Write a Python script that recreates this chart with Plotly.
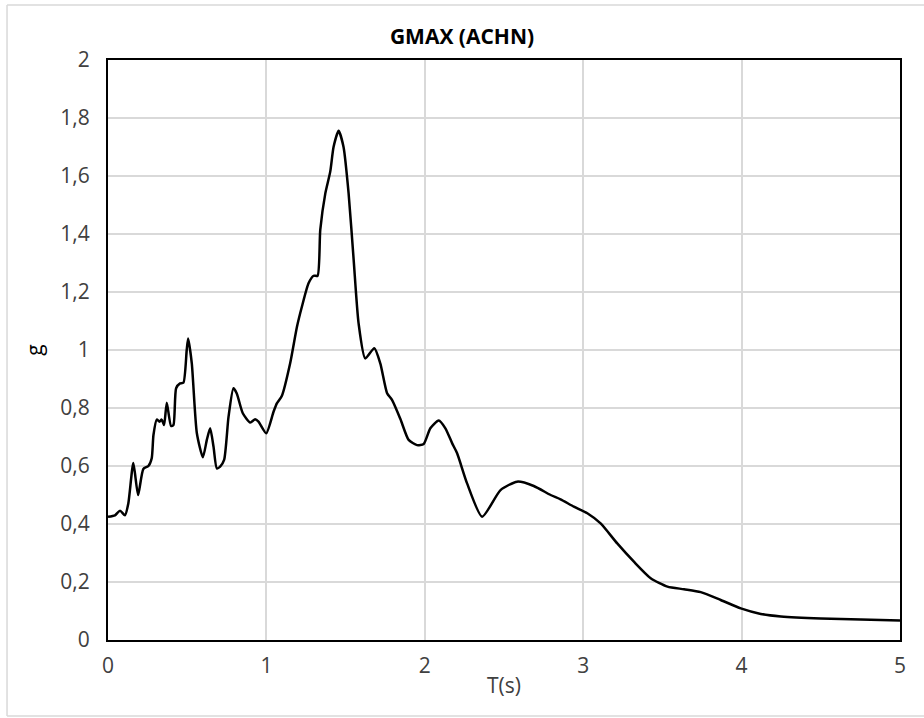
import plotly.graph_objects as go

T = [0.0, 0.044, 0.076, 0.107, 0.128, 0.16, 0.19, 0.223, 0.255, 0.276, 0.287, 0.308, 0.325, 0.339,
     0.354, 0.371, 0.398, 0.413, 0.43, 0.455, 0.476, 0.497, 0.506, 0.529, 0.561, 0.599, 0.624,
     0.645, 0.666, 0.687, 0.708, 0.733, 0.761, 0.792, 0.813, 0.851, 0.898, 0.929, 0.95, 0.999,
     1.045, 1.066, 1.098, 1.15, 1.193, 1.224, 1.266, 1.298, 1.323, 1.34, 1.372, 1.403, 1.424,
     1.456, 1.487, 1.519, 1.551, 1.582, 1.624, 1.681, 1.719, 1.762, 1.793, 1.846, 1.898, 1.951,
     1.993, 2.035, 2.088, 2.13, 2.173, 2.204, 2.267, 2.362, 2.478, 2.583, 2.688, 2.794, 2.857,
     2.941, 3.026, 3.11, 3.215, 3.32, 3.426, 3.532, 3.637, 3.742, 3.868, 3.995, 4.121, 4.248,
     4.5, 4.753, 5.0]
G = [0.425, 0.43, 0.446, 0.43, 0.47, 0.61, 0.50, 0.59, 0.60, 0.627, 0.707, 0.76, 0.753, 0.76,
     0.741, 0.818, 0.738, 0.741, 0.868, 0.885, 0.887, 1.0, 1.04, 0.954, 0.713, 0.63, 0.69,
     0.73, 0.667, 0.592, 0.598, 0.621, 0.77, 0.868, 0.85, 0.782, 0.75, 0.761, 0.753, 0.713,
     0.787, 0.816, 0.842, 0.954, 1.08, 1.149, 1.23, 1.256, 1.256, 1.414, 1.54, 1.615, 1.70,
     1.756, 1.70, 1.54, 1.31, 1.092, 0.971, 1.006, 0.954, 0.851, 0.828, 0.762, 0.69, 0.672,
     0.676, 0.73, 0.757, 0.73, 0.678, 0.644, 0.54, 0.425, 0.517, 0.546, 0.531, 0.5, 0.485,
     0.46, 0.437, 0.402, 0.333, 0.27, 0.213, 0.184, 0.175, 0.165, 0.138, 0.109, 0.09, 0.081,
     0.074, 0.071, 0.067]

X_TICKS = [0, 1, 2, 3, 4, 5]
Y_TICKS = [0, 0.2, 0.4, 0.6, 0.8, 1, 1.2, 1.4, 1.6, 1.8, 2]

FONT = "Open Sans"
TXT = "#404040"
FRAME = dict(color="#d9d9d9", width=1.5)

fig = go.Figure()
fig.add_trace(go.Scatter(x=T, y=G, mode="lines",
                         line=dict(color="black", width=2.5, shape="spline", smoothing=0.6),
                         showlegend=False, hoverinfo="skip"))

fig.update_layout(
    width=924, height=718, autosize=False,
    margin=dict(l=108, r=24, t=60, b=78),
    paper_bgcolor="white", plot_bgcolor="white",
    separators=", ",
    font=dict(family=FONT, color=TXT, size=21),
    title=dict(text="<b>GMAX (ACHN)</b>", x=0.5, xanchor="center", y=0.949, yanchor="middle",
               font=dict(family=FONT, size=21, color="black")),
    xaxis=dict(range=[0, 5], tickvals=X_TICKS, showgrid=True, gridcolor="#d9d9d9", gridwidth=1.5,
               showline=True, linecolor="black", linewidth=2, mirror=True, zeroline=False,
               ticks="outside", ticklen=6, tickcolor="rgba(0,0,0,0)", tickfont=dict(size=21, color=TXT),
               title=dict(text="T(s)", font=dict(size=21, color=TXT), standoff=0)),
    yaxis=dict(range=[0, 2], tickvals=Y_TICKS, showgrid=True, gridcolor="#d9d9d9", gridwidth=1.5,
               showline=True, linecolor="black", linewidth=2, mirror=True, zeroline=False,
               ticks="outside", ticklen=12, tickcolor="rgba(0,0,0,0)", tickfont=dict(size=21, color=TXT),
               title=dict(text="g", font=dict(size=21, color="black"), standoff=12)),
    shapes=[
        dict(type="line", xref="paper", yref="paper", x0=-0.1275, x1=-0.1275, y0=-0.131, y1=1.0948,
             line=FRAME, layer="below"),
        dict(type="line", xref="paper", yref="paper", x0=-0.1275, x1=1.1, y0=1.0948, y1=1.0948,
             line=FRAME, layer="below"),
        dict(type="line", xref="paper", yref="paper", x0=-0.1275, x1=1.1, y0=-0.131, y1=-0.131,
             line=FRAME, layer="below"),
    ],
)

fig.write_html("out.html", config={"displayModeBar": False},
               post_script="document.body.style.margin='0';document.body.style.overflow='hidden';")
